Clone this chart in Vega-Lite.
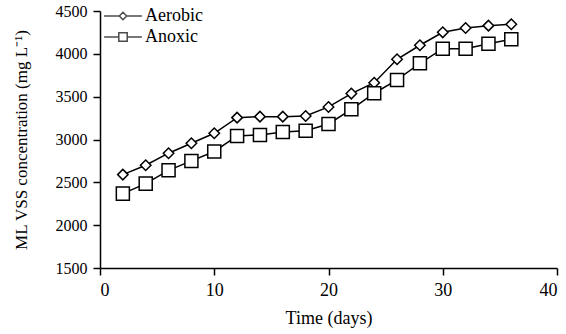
{
  "$schema": "https://vega.github.io/schema/vega-lite/v6.json",
  "width": 457,
  "height": 257,
  "autosize": "none",
  "padding": {"left": 100, "top": 11, "right": 9, "bottom": 66},
  "background": "white",
  "config": {
    "view": {"stroke": null},
    "font": "Liberation Serif",
    "axis": {
      "labelFont": "Liberation Serif", "titleFont": "Liberation Serif",
      "titleFontWeight": "normal",
      "labelColor": "black", "titleColor": "black",
      "domainColor": "black", "tickColor": "black", "domainWidth": 1.5, "tickWidth": 1.5,
      "tickSize": 7, "grid": false
    }
  },
  "data": {"values": [
    {"day": 2, "series": "Aerobic", "vss": 2590},
    {"day": 4, "series": "Aerobic", "vss": 2700},
    {"day": 6, "series": "Aerobic", "vss": 2840},
    {"day": 8, "series": "Aerobic", "vss": 2956},
    {"day": 10, "series": "Aerobic", "vss": 3073},
    {"day": 12, "series": "Aerobic", "vss": 3255},
    {"day": 14, "series": "Aerobic", "vss": 3267},
    {"day": 16, "series": "Aerobic", "vss": 3267},
    {"day": 18, "series": "Aerobic", "vss": 3275},
    {"day": 20, "series": "Aerobic", "vss": 3380},
    {"day": 22, "series": "Aerobic", "vss": 3536},
    {"day": 24, "series": "Aerobic", "vss": 3663},
    {"day": 26, "series": "Aerobic", "vss": 3936},
    {"day": 28, "series": "Aerobic", "vss": 4100},
    {"day": 30, "series": "Aerobic", "vss": 4251},
    {"day": 32, "series": "Aerobic", "vss": 4302},
    {"day": 34, "series": "Aerobic", "vss": 4329},
    {"day": 36, "series": "Aerobic", "vss": 4345},
    {"day": 2, "series": "Anoxic", "vss": 2368},
    {"day": 4, "series": "Anoxic", "vss": 2485},
    {"day": 6, "series": "Anoxic", "vss": 2640},
    {"day": 8, "series": "Anoxic", "vss": 2750},
    {"day": 10, "series": "Anoxic", "vss": 2860},
    {"day": 12, "series": "Anoxic", "vss": 3042},
    {"day": 14, "series": "Anoxic", "vss": 3053},
    {"day": 16, "series": "Anoxic", "vss": 3088},
    {"day": 18, "series": "Anoxic", "vss": 3103},
    {"day": 20, "series": "Anoxic", "vss": 3181},
    {"day": 22, "series": "Anoxic", "vss": 3353},
    {"day": 24, "series": "Anoxic", "vss": 3540},
    {"day": 26, "series": "Anoxic", "vss": 3695},
    {"day": 28, "series": "Anoxic", "vss": 3890},
    {"day": 30, "series": "Anoxic", "vss": 4060},
    {"day": 32, "series": "Anoxic", "vss": 4060},
    {"day": 34, "series": "Anoxic", "vss": 4118},
    {"day": 36, "series": "Anoxic", "vss": 4170}
  ]},
  "encoding": {
    "x": {"field": "day", "type": "quantitative", "scale": {"domain": [0, 40], "nice": false},
          "axis": {"values": [0, 10, 20, 30, 40], "title": "Time (days)", "titleFontSize": 18, "labelFontSize": 18, "titlePadding": 10, "labelPadding": 6}},
    "y": {"field": "vss", "type": "quantitative", "scale": {"domain": [1500, 4500], "nice": false, "zero": false},
          "axis": {"values": [1500, 2000, 2500, 3000, 3500, 4000, 4500], "format": "d", "title": "ML VSS concentration (mg L⁻¹)", "titleFontSize": 17, "labelFontSize": 16, "titlePadding": 25, "labelPadding": 6}}
  },
  "layer": [
    {"mark": {"type": "line", "stroke": "black", "strokeWidth": 1.5},
     "encoding": {"detail": {"field": "series", "type": "nominal"}}},
    {"mark": {"type": "point", "filled": true, "fill": "white", "stroke": "black", "strokeWidth": 1.5, "opacity": 1},
     "encoding": {
       "shape": {"field": "series", "type": "nominal", "scale": {"domain": ["Aerobic", "Anoxic"], "range": ["diamond", "square"]}, "legend": null},
       "size": {"field": "series", "type": "nominal", "scale": {"domain": ["Aerobic", "Anoxic"], "range": [110, 170]}, "legend": null}
     }},
    {"mark": {"type": "point", "filled": true, "fill": "white", "stroke": "black", "strokeWidth": 0, "size": 0},
     "encoding": {
       "shape": {"field": "series", "type": "nominal",
         "scale": {"domain": ["Aerobic", "Anoxic"], "range": [
           "M-1.8,0H-0.35M0.35,0H1.8M-0.35,0L0,-0.35L0.35,0L0,0.35Z",
           "M-1.8,0H-0.4M0.4,0H1.8M-0.4,-0.4H0.4V0.4H-0.4Z"]},
         "legend": {"title": null, "orient": "none", "legendX": 11.5, "legendY": -6.5, "padding": 0,
           "symbolSize": 441, "labelFont": "Liberation Serif", "labelFontSize": 18, "labelColor": "black",
           "rowPadding": 0, "labelOffset": 10.5,
           "encode": {"symbols": {"update": {
             "opacity": {"value": 1}, "strokeWidth": {"value": 1.6}, "stroke": {"value": "black"},
             "fill": {"value": "white"}, "size": {"value": 441}, "fillOpacity": {"value": 1}, "strokeOpacity": {"value": 1}}}}}}
     }}
  ],
  "resolve": {"scale": {"shape": "independent"}, "legend": {"shape": "independent"}}
}
